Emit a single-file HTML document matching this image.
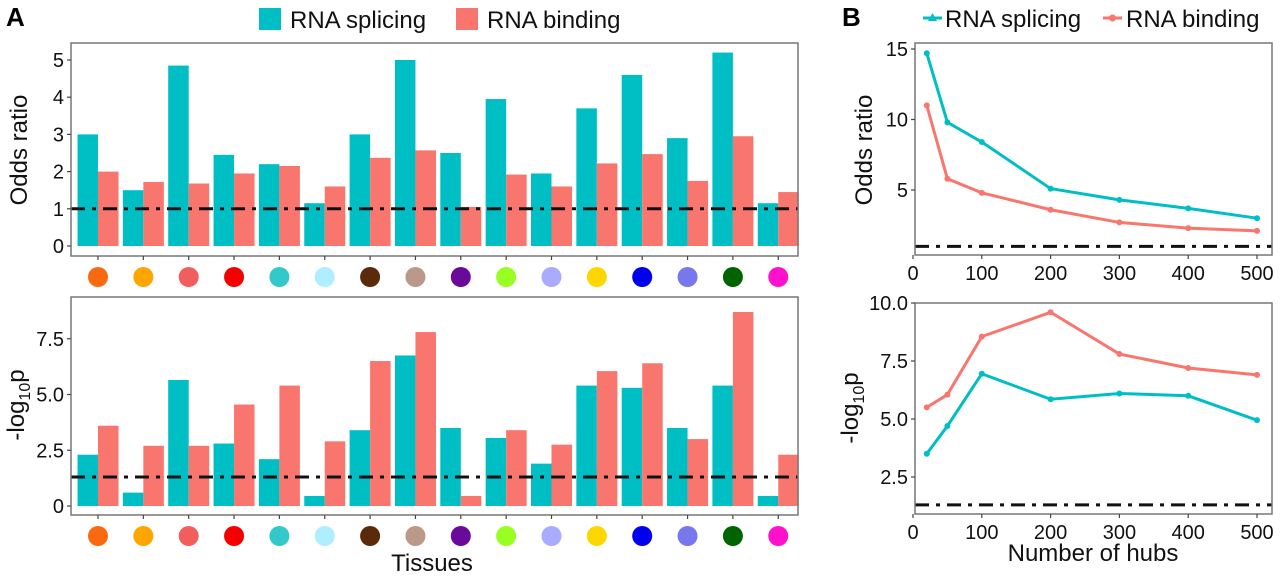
<!DOCTYPE html>
<html><head><meta charset="utf-8"><style>
body{margin:0;background:#fff;}
svg{display:block;font-family:"Liberation Sans",sans-serif;}
</style></head><body>
<svg id="c" width="1280" height="580" xmlns="http://www.w3.org/2000/svg"></svg>
<script>
const tissueColors=["#f96a10","#ffa500","#f25e5e","#f50000","#33c9c9","#aeeeff","#5a2a0a","#bb9988","#6a0a9a","#99ff22","#aaaaff","#ffd700","#0000ee","#7777ee","#006400","#ff11cc"];
const orSplicing=[3.0,1.5,4.85,2.45,2.2,1.15,3.0,5.0,2.5,3.95,1.95,3.7,4.6,2.9,5.2,1.15];
const orBinding=[2.0,1.72,1.68,1.95,2.15,1.6,2.37,2.57,1.05,1.92,1.6,2.22,2.47,1.75,2.95,1.45];
const pSplicing=[2.3,0.6,5.65,2.8,2.1,0.45,3.4,6.75,3.5,3.05,1.9,5.4,5.3,3.5,5.4,0.45];
const pBinding=[3.6,2.7,2.7,4.55,5.4,2.9,6.5,7.8,0.45,3.4,2.75,6.05,6.4,3.0,8.7,2.3];
const hubs=[20,50,100,200,300,400,500];
const hubOrSplicing=[14.7,9.8,8.4,5.1,4.3,3.7,3.0];
const hubOrBinding=[11.0,5.8,4.8,3.6,2.7,2.3,2.1];
const hubPSplicing=[3.5,4.7,6.95,5.85,6.1,6.0,4.95];
const hubPBinding=[5.5,6.05,8.55,9.6,7.8,7.2,6.9];
const orTicks=[0,1,2,3,4,5];
const pTicks=[0,2.5,5.0,7.5];
const pTickLabels=["0","2.5","5.0","7.5"];
const hubPTicks=[2.5,5.0,7.5,10.0];
const hubOrTicks=[5,10,15];
const hubXTicks=[0,100,200,300,400,500];
const CY="#00BFC4",SA="#F8766D";
const svg=document.getElementById('c');
const NS="http://www.w3.org/2000/svg";
function mk(t,a,p){const e=document.createElementNS(NS,t);for(const k in a)e.setAttribute(k,a[k]);(p||svg).appendChild(e);return e;}
function txt(s,x,y,size,anchor,p){const e=mk('text',{x:x,y:y,'font-size':size,'text-anchor':anchor||'middle',fill:'#111'},p);e.textContent=s;return e;}
const dash='14 7 4 7';

function barPanel(name,top,bot,y0,ppu,s1,s2,ticks,labels,thr){
  const g=mk('g',{});
  
  
  const L=71,R=798;
  const ys=v=>y0-v*ppu;
  const xc=i=>98+i*45.35;
  s1.forEach((v,i)=>{const r=mk('rect',{x:xc(i)-20.5,y:ys(v),width:20.5,height:v*ppu,fill:CY},g);
    });
  s2.forEach((v,i)=>{const r=mk('rect',{x:xc(i),y:ys(v),width:20.5,height:v*ppu,fill:SA},g);
    });
  mk('line',{x1:L,x2:R,y1:ys(thr),y2:ys(thr),stroke:'#111','stroke-width':3,'stroke-dasharray':dash},g);
  mk('rect',{x:L,y:top,width:R-L,height:bot-top,fill:'none',stroke:'#777','stroke-width':1.5},g);
  ticks.forEach((t,i)=>{mk('line',{x1:L-4,x2:L,y1:ys(t),y2:ys(t),stroke:'#444','stroke-width':1.2},g);
    txt(labels[i],L-7,ys(t)+7,20,'end',g);});
  tissueColors.forEach((c,i)=>{mk('line',{x1:xc(i),x2:xc(i),y1:bot,y2:bot+4,stroke:'#444','stroke-width':1.2},g);
    const d=mk('circle',{cx:xc(i),cy:bot+21,r:10,fill:c},g);
    });
  return g;
}
barPanel('odds-ratio-bars',43,256,246,37.2,orSplicing,orBinding,orTicks,orTicks.map(String),1);
barPanel('log-p-bars',297,515,506,22.3,pSplicing,pBinding,pTicks,pTickLabels,1.3);

let yl=txt('Odds ratio',0,0,24,'middle');yl.setAttribute('transform','translate(27,150) rotate(-90)');

let yl2=mk('text',{'font-size':24,'text-anchor':'middle',fill:'#111',transform:'translate(24,405) rotate(-90)'});
yl2.innerHTML='-log<tspan font-size="16" dy="6">10</tspan><tspan dy="-6">p</tspan>';

let xt=txt('Tissues',432,571,24);

function linePanel(name,top,bot,ys,sA,sB,ticks,fmt,thr){
  const g=mk('g',{});
  
  
  const L=915,R=1272;
  const xs=v=>913+v*0.688;
  mk('line',{x1:L,x2:R,y1:ys(thr),y2:ys(thr),stroke:'#111','stroke-width':3,'stroke-dasharray':dash},g);
  [[sA,CY,'line-splicing'],[sB,SA,'line-binding']].forEach(([s,c,n])=>{
    const p=mk('polyline',{points:s.map((v,i)=>xs(hubs[i])+','+ys(v)).join(' '),fill:'none',stroke:c,'stroke-width':3},g);
    
    s.forEach((v,i)=>{const m=mk('circle',{cx:xs(hubs[i]),cy:ys(v),r:3,fill:c},g);
      });
  });
  mk('rect',{x:L,y:top,width:R-L,height:bot-top,fill:'none',stroke:'#777','stroke-width':1.5},g);
  ticks.forEach(t=>{mk('line',{x1:L-4,x2:L,y1:ys(t),y2:ys(t),stroke:'#444','stroke-width':1.2},g);
    txt(fmt(t),L-7,ys(t)+7,20,'end',g);});
  hubXTicks.forEach(t=>{mk('line',{x1:xs(t),x2:xs(t),y1:bot,y2:bot+4,stroke:'#444','stroke-width':1.2},g);
    txt(String(t),xs(t),bot+25,20,'middle',g);});
}
linePanel('hubs-odds-ratio',43,255,v=>190-(v-5)*14.1,hubOrSplicing,hubOrBinding,hubOrTicks,t=>String(t),1);
linePanel('hubs-log-p',303,514,v=>419-(v-5)*23.2,hubPSplicing,hubPBinding,hubPTicks,t=>t.toFixed(1),1.3);
let yl3=txt('Odds ratio',0,0,24,'middle');yl3.setAttribute('transform','translate(872,150) rotate(-90)');

let yl4=mk('text',{'font-size':24,'text-anchor':'middle',fill:'#111',transform:'translate(858,408) rotate(-90)'});
yl4.innerHTML='-log<tspan font-size="16" dy="6">10</tspan><tspan dy="-6">p</tspan>';

let xt2=txt('Number of hubs',1093,561,24);

let A=mk('text',{x:6,y:26,'font-size':26,'font-weight':'bold',fill:'#000'});A.textContent='A';

let B=mk('text',{x:842,y:26,'font-size':26,'font-weight':'bold',fill:'#000'});B.textContent='B';


let lg=mk('g',{});
mk('rect',{x:259,y:8,width:22,height:22,fill:CY},lg);
txt('RNA splicing',290,28,24,'start',lg);
mk('rect',{x:456,y:8,width:22,height:22,fill:SA},lg);
txt('RNA binding',487,28,24,'start',lg);
let lb=mk('g',{});
mk('line',{x1:923,x2:942,y1:18,y2:18,stroke:CY,'stroke-width':3},lb);
mk('polygon',{points:'932.5,13 937,21 928,21',fill:CY},lb);
txt('RNA splicing',945,27,24,'start',lb);
mk('line',{x1:1103,x2:1122,y1:18,y2:18,stroke:SA,'stroke-width':3},lb);
mk('circle',{cx:1112.5,cy:18,r:3.5,fill:SA},lb);
txt('RNA binding',1126,27,24,'start',lb);
</script>
</body></html>
